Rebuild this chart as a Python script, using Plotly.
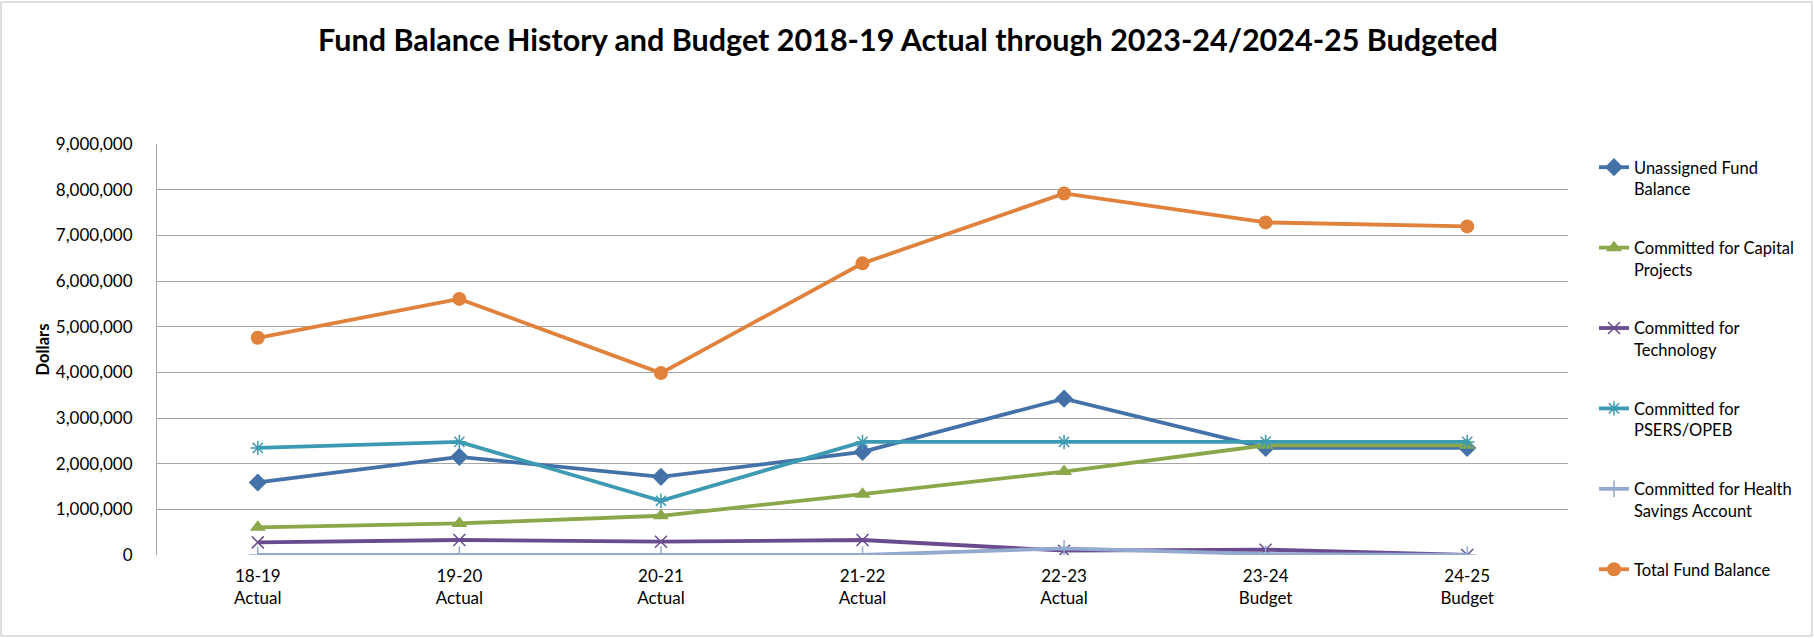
import plotly.graph_objects as go

categories = ["18-19<br>Actual", "19-20<br>Actual", "20-21<br>Actual", "21-22<br>Actual",
              "22-23<br>Actual", "23-24<br>Budget", "24-25<br>Budget"]

unassigned = [1588000, 2149000, 1712000, 2258000, 3423000, 2345000, 2345000]
capital = [605000, 692000, 859000, 1333000, 1828000, 2403000, 2403000]
technology = [277000, 328000, 291000, 328000, 95000, 117000, 0]
psers = [2345000, 2476000, 1187000, 2476000, 2476000, 2476000, 2476000]
hsa = [0, 0, 0, 0, 146000, 20000, 0]
total = [4756000, 5608000, 3984000, 6387000, 7917000, 7283000, 7196000]

series = [
    ("Unassigned Fund<br>Balance", unassigned, "#4472A8", "diamond", 14, 0),
    ("Committed for Capital<br>Projects", capital, "#8AA84A", "triangle-up", 14, 0),
    ("Committed for<br>Technology", technology, "#6A4C8E", "x-thin-open", 12, 1.5),
    ("Committed for<br>PSERS/OPEB", psers, "#3C9AB2", "asterisk-open", 12, 1.5),
    ("Committed for Health<br>Savings Account", hsa, "#93A9D0", "cross-thin-open", 12, 1.5),
    ("Total Fund Balance", total, "#E0823C", "circle", 14, 0),
]

FONT = "Lato"
fig = go.Figure()
for i, (name, vals, color, sym, size, lw) in enumerate(series):
    fig.add_trace(go.Scatter(
        x=categories, y=vals, name=name, mode="lines+markers",
        legendgroup=f"g{i}",
        line=dict(color=color, width=3.8),
        marker=dict(symbol=sym, size=size, color=color,
                    line=dict(color=color, width=lw)),
    ))

W, H = 1814, 638
L, R, T, B = 157, 1568, 144, 555
pw, ph = R - L, B - T

fig.update_layout(
    width=W, height=H,
    margin=dict(l=L, r=W - R, t=T, b=H - B),
    paper_bgcolor="white", plot_bgcolor="white",
    font=dict(family=FONT, size=17, color="#000000"),
    title=dict(text="<b>Fund Balance History and Budget 2018-19 Actual through 2023-24/2024-25 Budgeted</b>",
               x=(908) / W, xanchor="center", y=1 - 40 / H, yanchor="middle",
               font=dict(family=FONT, size=30.5, color="#000000")),
    legend=dict(x=(1594 - L) / pw, xanchor="left", y=(B - 150) / ph, yanchor="top",
                traceorder="grouped", tracegroupgap=34.5, valign="top",
                font=dict(family=FONT, size=16.5), itemwidth=30, maxheight=620,
                bgcolor="rgba(0,0,0,0)"),
    showlegend=True,
    shapes=[dict(type="rect", xref="paper", yref="paper",
                 x0=(1 - L) / pw, x1=(1812 - L) / pw,
                 y0=(B - 636) / ph, y1=(B - 2) / ph,
                 line=dict(color="#BFBFBF", width=1), fillcolor="rgba(0,0,0,0)", layer="below")],
)

fig.update_xaxes(type="category", range=[-0.5, 6.5], showgrid=False, showline=False,
                 ticks="", tickfont=dict(family=FONT, size=17), ticklabelstandoff=9,
                 zeroline=False)
fig.update_yaxes(range=[0, 9000000], dtick=1000000, tickformat=",",
                 showgrid=True, gridcolor="#A6A6A6", gridwidth=1,
                 showline=True, linecolor="#A6A6A6", linewidth=1, mirror=False,
                 zeroline=False, ticks="", ticklabelstandoff=20,
                 tickfont=dict(family=FONT, size=17),
                 title=dict(text="<b>Dollars</b>", standoff=2, font=dict(family=FONT, size=16.5)),
                 automargin=False)

fig.write_html("out.html")
